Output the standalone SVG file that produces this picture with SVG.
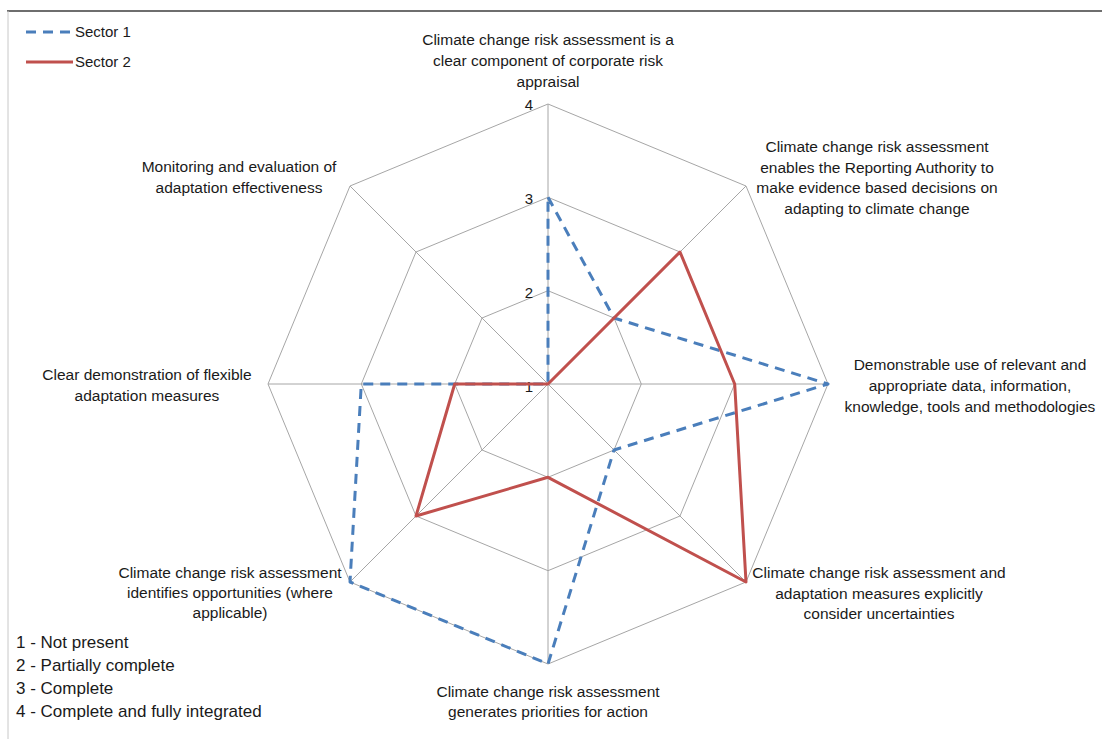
<svg xmlns="http://www.w3.org/2000/svg" width="1103" height="739" viewBox="0 0 1103 739">
<style>
text{font-family:"Liberation Sans",Arial,sans-serif;font-size:15.5px;fill:#1a1a1a}
.c{text-anchor:middle}
.e{text-anchor:end;font-size:15px}
.lg{font-size:15px}
.key{font-size:17px}
.grid{fill:none;stroke:#a6a6a6;stroke-width:1}
.s1{fill:none;stroke:#4a7ebb;stroke-width:3;stroke-dasharray:10 7;stroke-linejoin:round}
.s2{fill:none;stroke:#c0504d;stroke-width:3;stroke-linejoin:round}
</style>
<rect x="0" y="0" width="1103" height="739" fill="#ffffff"/>
<line x1="7" y1="11" x2="1102" y2="11" stroke="#6e6e6e" stroke-width="2"/>
<line x1="8" y1="11" x2="8" y2="739" stroke="#c8c8c8" stroke-width="1"/>
<g id="grid">
<polygon class="grid" points="548,104 746,186 828,384 746,582 548,664 350,582 268,384 350,186"/>
<polygon class="grid" points="548,197.3 680,252 734.7,384 680,516 548,570.7 416,516 361.3,384 416,252"/>
<polygon class="grid" points="548,290.7 614,318 641.3,384 614,450 548,477.3 482,450 454.7,384 482,318"/>
<path class="grid" d="M548,384L548,104M548,384L746,186M548,384L828,384M548,384L746,582M548,384L548,664M548,384L350,582M548,384L268,384M548,384L350,186"/>
</g>
<g id="axis-labels">
<text class="e" x="533" y="110">4</text>
<text class="e" x="533" y="204">3</text>
<text class="e" x="533" y="298">2</text>
<text class="e" x="533" y="392">1</text>
</g>
<g id="connectors">
<polygon id="sector1" class="s1" points="548,197.3 614,318 828,384 614,450 548,664 350,582 361.3,384 548,384"/>
<polygon id="sector2" class="s2" points="548,384 680,252 734.7,384 746,582 548,477.3 416,516 454.7,384 548,384"/>
</g>
<g id="label-top">
<text class="c" x="548" y="45">Climate change risk assessment is a</text>
<text class="c" x="548" y="66">clear component of corporate risk</text>
<text class="c" x="548" y="87">appraisal</text>
</g>
<g id="label-top-right">
<text class="c" x="877" y="152">Climate change risk assessment</text>
<text class="c" x="877" y="173">enables the Reporting Authority to</text>
<text class="c" x="877" y="193">make evidence based decisions on</text>
<text class="c" x="877" y="214">adapting to climate change</text>
</g>
<g id="label-right">
<text class="c" x="970" y="370">Demonstrable use of relevant and</text>
<text class="c" x="970" y="391">appropriate data, information,</text>
<text class="c" x="970" y="412">knowledge, tools and methodologies</text>
</g>
<g id="label-bottom-right">
<text class="c" x="879" y="578">Climate change risk assessment and</text>
<text class="c" x="879" y="599">adaptation measures explicitly</text>
<text class="c" x="879" y="619">consider uncertainties</text>
</g>
<g id="label-bottom">
<text class="c" x="548" y="697">Climate change risk assessment</text>
<text class="c" x="548" y="717">generates priorities for action</text>
</g>
<g id="label-bottom-left">
<text class="c" x="230" y="578">Climate change risk assessment</text>
<text class="c" x="230" y="598">identifies opportunities (where</text>
<text class="c" x="230" y="618">applicable)</text>
</g>
<g id="label-left">
<text class="c" x="147" y="380">Clear demonstration of flexible</text>
<text class="c" x="147" y="401">adaptation measures</text>
</g>
<g id="label-top-left">
<text class="c" x="239" y="172">Monitoring and evaluation of</text>
<text class="c" x="239" y="193">adaptation effectiveness</text>
</g>
<g id="legend">
<line class="s1" x1="26" y1="32" x2="73" y2="32"/>
<text class="lg" x="75" y="37">Sector 1</text>
<line class="s2" x1="26" y1="62" x2="73" y2="62"/>
<text class="lg" x="75" y="67">Sector 2</text>
</g>
<g id="scale-key">
<text class="key" x="16" y="648">1 - Not present</text>
<text class="key" x="16" y="671">2 - Partially complete</text>
<text class="key" x="16" y="694">3 - Complete</text>
<text class="key" x="16" y="717">4 - Complete and fully integrated</text>
</g>
</svg>
